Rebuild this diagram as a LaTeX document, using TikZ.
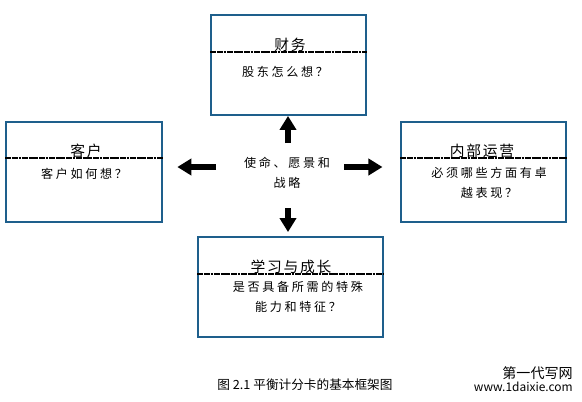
\documentclass[tikz,border=0pt]{standalone}
\usepackage{fontspec}
\newfontfamily\cjk{Noto Sans CJK SC}
\newfontfamily\cjkspaziato[LetterSpace=22]{Noto Sans CJK SC}
\newfontfamily\cjktitolo[LetterSpace=12]{Noto Sans CJK SC}
\usetikzlibrary{arrows.meta, positioning}
\definecolor{blu}{RGB}{30,95,140}

\begin{document}
\begin{tikzpicture}[
    x=0.025cm, y=-0.025cm,
    riquadro/.style={rectangle, draw=blu, line width=1.3pt, minimum height=2.5cm, inner sep=0pt},
    titolo/.style={font=\fontsize{10.5}{12}\cjktitolo, inner sep=0pt, anchor=south},
    testo/.style={font=\fontsize{8.6}{14.5}\cjkspaziato, align=center, inner sep=0pt},
    divisore/.style={draw=black, line width=1pt, dash pattern=on 2pt off 0.4pt},
    freccia/.style={-{Triangle[length=10pt, width=11.5pt]}, line width=3.6pt, black},
    didascalia/.style={font=\fontsize{9}{11}\cjk, inner sep=0pt}
]
    \useasboundingbox (0,0) rectangle (582,401);

    % 1. Riquadri delle quattro prospettive
    \node[riquadro, minimum width=3.875cm] (fin)  at (288.5,65)  {};
    \node[riquadro, minimum width=3.9cm]   (cust) at (84,172)    {};
    \node[riquadro, minimum width=4.125cm] (intl) at (483.5,172) {};
    \node[riquadro, minimum width=4.625cm] (grow) at (290.5,287) {};

    % 2. Titoli e linee di separazione
    \node[titolo] (finT)  at (290,52)  {财务};
    \node[titolo] (custT) at (86,158)  {客户};
    \node[titolo] (intlT) at (482,158) {内部运营};
    \node[titolo] (growT) at (291,274) {学习与成长};

    \draw[divisore] (fin.west |- finT.south) -- (fin.east |- finT.south);
    \draw[divisore] (cust.west |- custT.south) -- (cust.east |- custT.south);
    \draw[divisore] (intl.west |- intlT.south) -- (intl.east |- intlT.south);
    \draw[divisore] (grow.west |- growT.south) -- (grow.east |- growT.south);

    % 3. Domande
    \node[testo] (finQ)  at (285,72)  {股东怎么想？};
    \node[testo] (custQ) at (84,174)  {客户如何想？};
    \node[testo] (intlQ) at (489,183) {必须哪些方面有卓\\越表现？};
    \node[testo] (growQ) at (298,297) {是否具备所需的特殊\\能力和特征？};

    % 4. Centro e frecce
    \node[testo] (mission) at (287,173) {使命、愿景和\\战略};

    \coordinate (aU) at (288,143);
    \coordinate (aD) at (288,208);
    \coordinate (aL) at (216,167);
    \coordinate (aR) at (344,167);

    \draw[freccia] (aU) -- (aU |- fin.south);
    \draw[freccia, shorten >=0.1cm] (aD) -- (aD |- grow.north);
    \draw[freccia, shorten >=0.36cm] (aL) -- (aL -| cust.east);
    \draw[freccia, shorten >=0.44cm] (aR) -- (aR -| intl.west);

    % 5. Didascalia
    \node[didascalia] (cap) at (305,385) {图 2.1 平衡计分卡的基本框架图};
    \node[didascalia, font=\fontsize{10}{12}\cjk, anchor=east] (wmA) at (573,373) {第一代写网};
    \node[didascalia, font=\fontsize{8.5}{10}\cjk, anchor=east] (wmB) at (573,387) {www.1daixie.com};

\end{tikzpicture}
\end{document}
